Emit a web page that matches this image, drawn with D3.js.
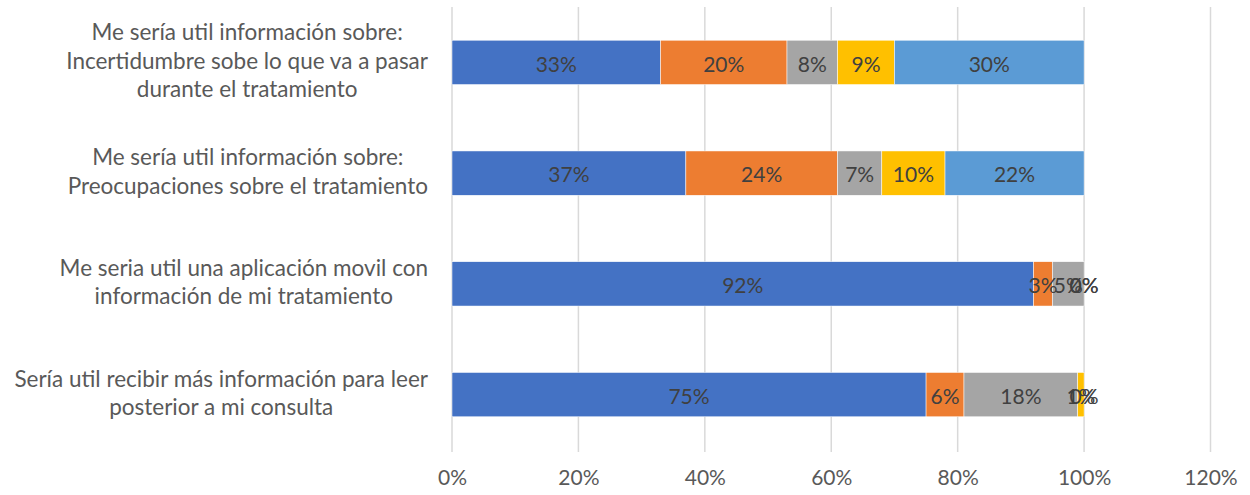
<!DOCTYPE html>
<html>
<head>
<meta charset="utf-8">
<script src="https://cdn.jsdelivr.net/npm/d3@7"></script>
<style>
  html, body { margin: 0; padding: 0; background: #fff; }
  svg { display: block; }
  text { font-family: Lato, "Open Sans", sans-serif; }
</style>
</head>
<body>
<svg id="chart" width="1250" height="495"></svg>
<script>
// Category labels, one entry per line of the wrapped label
const categories = [
  ["Me sería util información sobre:", "Incertidumbre sobe lo que va a pasar", "durante el tratamiento"],
  ["Me sería util información sobre:", "Preocupaciones sobre el tratamiento"],
  ["Me seria util una aplicación movil con", "información de mi tratamiento"],
  ["Sería util recibir más información para leer", "posterior a mi consulta"]
];

// Percentages for each series, in category order
const serie1 = [33, 37, 92, 75];
const serie2 = [20, 24, 3, 6];
const serie3 = [8, 7, 5, 18];
const serie4 = [9, 10, 0, 1];
const serie5 = [30, 22, 0, 0];

const xTicks = [0, 0.2, 0.4, 0.6, 0.8, 1.0, 1.2];
const seriesKeys = ["serie1", "serie2", "serie3", "serie4", "serie5"];
const seriesColors = ["#4472C4", "#ED7D31", "#A5A5A5", "#FFC000", "#5B9BD5"];

const rows = categories.map((c, i) => ({
  key: i,
  serie1: serie1[i] / 100,
  serie2: serie2[i] / 100,
  serie3: serie3[i] / 100,
  serie4: serie4[i] / 100,
  serie5: serie5[i] / 100
}));

const svg = d3.select("#chart");

const x = d3.scaleLinear().domain([0, 1.2]).range([452, 1210.5]);
const y = d3.scaleBand()
  .domain(categories.map((c, i) => i))
  .range([7, 450])
  .paddingInner(0.6)
  .paddingOuter(0.3);

// Vertical gridlines
svg.append("g")
  .selectAll("line")
  .data(xTicks)
  .join("line")
  .attr("x1", d => x(d)).attr("x2", d => x(d))
  .attr("y1", 7).attr("y2", 452)
  .attr("stroke", "#d9d9d9")
  .attr("stroke-width", 1.5);

// Stacked bars
const stacked = d3.stack().keys(seriesKeys)(rows);

const layers = svg.append("g")
  .selectAll("g")
  .data(stacked)
  .join("g")
  .attr("fill", (d, i) => seriesColors[i]);

layers.selectAll("rect")
  .data(d => d)
  .join("rect")
  .attr("x", d => x(d[0]))
  .attr("width", d => x(d[1]) - x(d[0]))
  .attr("y", d => y(d.data.key))
  .attr("height", y.bandwidth())
  .attr("stroke", "#ffffff")
  .attr("stroke-width", 0.5);

// Value labels centred in each segment
const fmt = d3.format(".0%");
stacked.forEach(layer => {
  svg.append("g")
    .selectAll("text")
    .data(layer)
    .join("text")
    .attr("x", d => (x(d[0]) + x(d[1])) / 2)
    .attr("y", d => y(d.data.key) + y.bandwidth() / 2)
    .attr("dy", "0.44em")
    .attr("text-anchor", "middle")
    .attr("font-size", 21)
    .attr("fill", "#404040")
    .text(d => fmt(d[1] - d[0]));
});

// X axis tick labels
const xAxis = d3.axisBottom(x)
  .tickValues(xTicks)
  .tickFormat(d3.format(".0%"))
  .tickSize(0)
  .tickPadding(0);

const gx = svg.append("g")
  .attr("transform", "translate(0,478)")
  .call(xAxis);
gx.select(".domain").remove();
gx.selectAll("text")
  .attr("font-size", 21)
  .attr("font-family", "Lato, 'Open Sans', sans-serif")
  .attr("fill", "#595959")
  .attr("dy", "0.35em")
  .attr("y", 0);

// Category labels: each block centred, right edge aligned beside the axis
const labelRight = 428;
const lineHeight = 28.5;
categories.forEach((lines, i) => {
  const g = svg.append("g");
  const cy = y(i) + y.bandwidth() / 2;
  const texts = g.selectAll("text")
    .data(lines)
    .join("text")
    .attr("y", (d, j) => cy + (j - (lines.length - 1) / 2) * lineHeight)
    .attr("dy", "0.28em")
    .attr("text-anchor", "middle")
    .attr("font-size", 22.5)
    .attr("fill", "#595959")
    .text(d => d);
  let maxW = 0;
  texts.each(function () { maxW = Math.max(maxW, this.getComputedTextLength()); });
  texts.attr("x", labelRight - maxW / 2);
});
</script>
</body>
</html>
